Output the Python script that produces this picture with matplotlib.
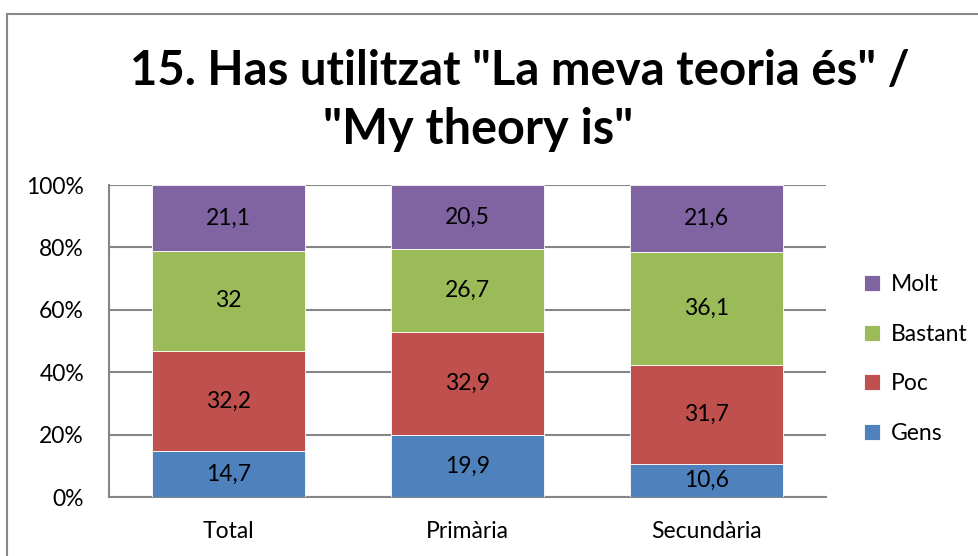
import numpy as np
import matplotlib
matplotlib.use("Agg")
import matplotlib.pyplot as plt
from matplotlib.patches import Rectangle

plt.rcParams['font.family'] = ['Lato', 'DejaVu Sans']

categories = ["Total", "Primària", "Secundària"]
series_names = ["Gens", "Poc", "Bastant", "Molt"]
gens = [14.7, 19.9, 10.6]
poc = [32.2, 32.9, 31.7]
bastant = [32.0, 26.7, 36.1]
molt = [21.1, 20.5, 21.6]
y_ticks = [0, 20, 40, 60, 80, 100]
colors = ["#4F81BD", "#C0504D", "#9BBB59", "#8064A2"]


def fmt(v):
    # comma decimals, drop ".0"
    if float(v).is_integer():
        return str(int(v))
    return ("%.1f" % v).replace(".", ",")


fs = 16.5
fig = plt.figure(figsize=(9.79, 5.56), dpi=100)
ax = fig.add_axes([109 / 979, 1 - 497 / 556, 717 / 979, 312 / 556])

# chart border
fig.patches.append(Rectangle((7 / 979, -0.1), 1.2, 1 - 14 / 556 + 0.1,
                             transform=fig.transFigure, fill=False,
                             edgecolor="#878787", linewidth=1.5))

x = np.arange(len(categories))
bottom = np.zeros(len(categories))
for vals, col, name in zip([gens, poc, bastant, molt], colors, series_names):
    ax.bar(x, vals, 0.636, bottom=bottom, color=col, label=name,
           edgecolor="white", linewidth=0.6, zorder=3)
    for xi, v, bt in zip(x, vals, bottom):
        ax.text(xi, bt + v / 2, fmt(v), ha="center", va="center",
                fontsize=fs, color="black", zorder=4)
    bottom += np.array(vals)

ax.set_xlim(-0.5, 2.5)
ax.set_ylim(0, 100)
ax.set_yticks(y_ticks)
ax.set_yticklabels([str(t) + "%" for t in y_ticks], fontsize=fs)
ax.set_xticks(x)
ax.set_xticklabels(categories, fontsize=fs)
ax.tick_params(length=0)
ax.tick_params(axis="y", pad=18)
ax.tick_params(axis="x", pad=17)
ax.yaxis.grid(True, color="#868686", linewidth=1.5, zorder=0)
for s in ["top", "right"]:
    ax.spines[s].set_visible(False)
for s in ["left", "bottom"]:
    ax.spines[s].set_color("#868686")
    ax.spines[s].set_linewidth(1.5)

handles, labels = ax.get_legend_handles_labels()
ax.legend(handles[::-1], labels[::-1], loc="center left",
          bbox_to_anchor=(855 / 979, 1 - 359 / 556),
          bbox_transform=fig.transFigure, frameon=False, fontsize=fs,
          handlelength=0.7, handleheight=0.7, handletextpad=0.45,
          labelspacing=1.25, borderaxespad=0)

fig.text(520 / 979, 1 - 71 / 556, '15. Has utilitzat "La meva teoria és" /',
         ha="center", va="center", fontsize=34, fontweight="bold")
fig.text(478 / 979, 1 - 129 / 556, '"My theory is"',
         ha="center", va="center", fontsize=35, fontweight="bold")

fig.savefig("out.png", dpi=100)
